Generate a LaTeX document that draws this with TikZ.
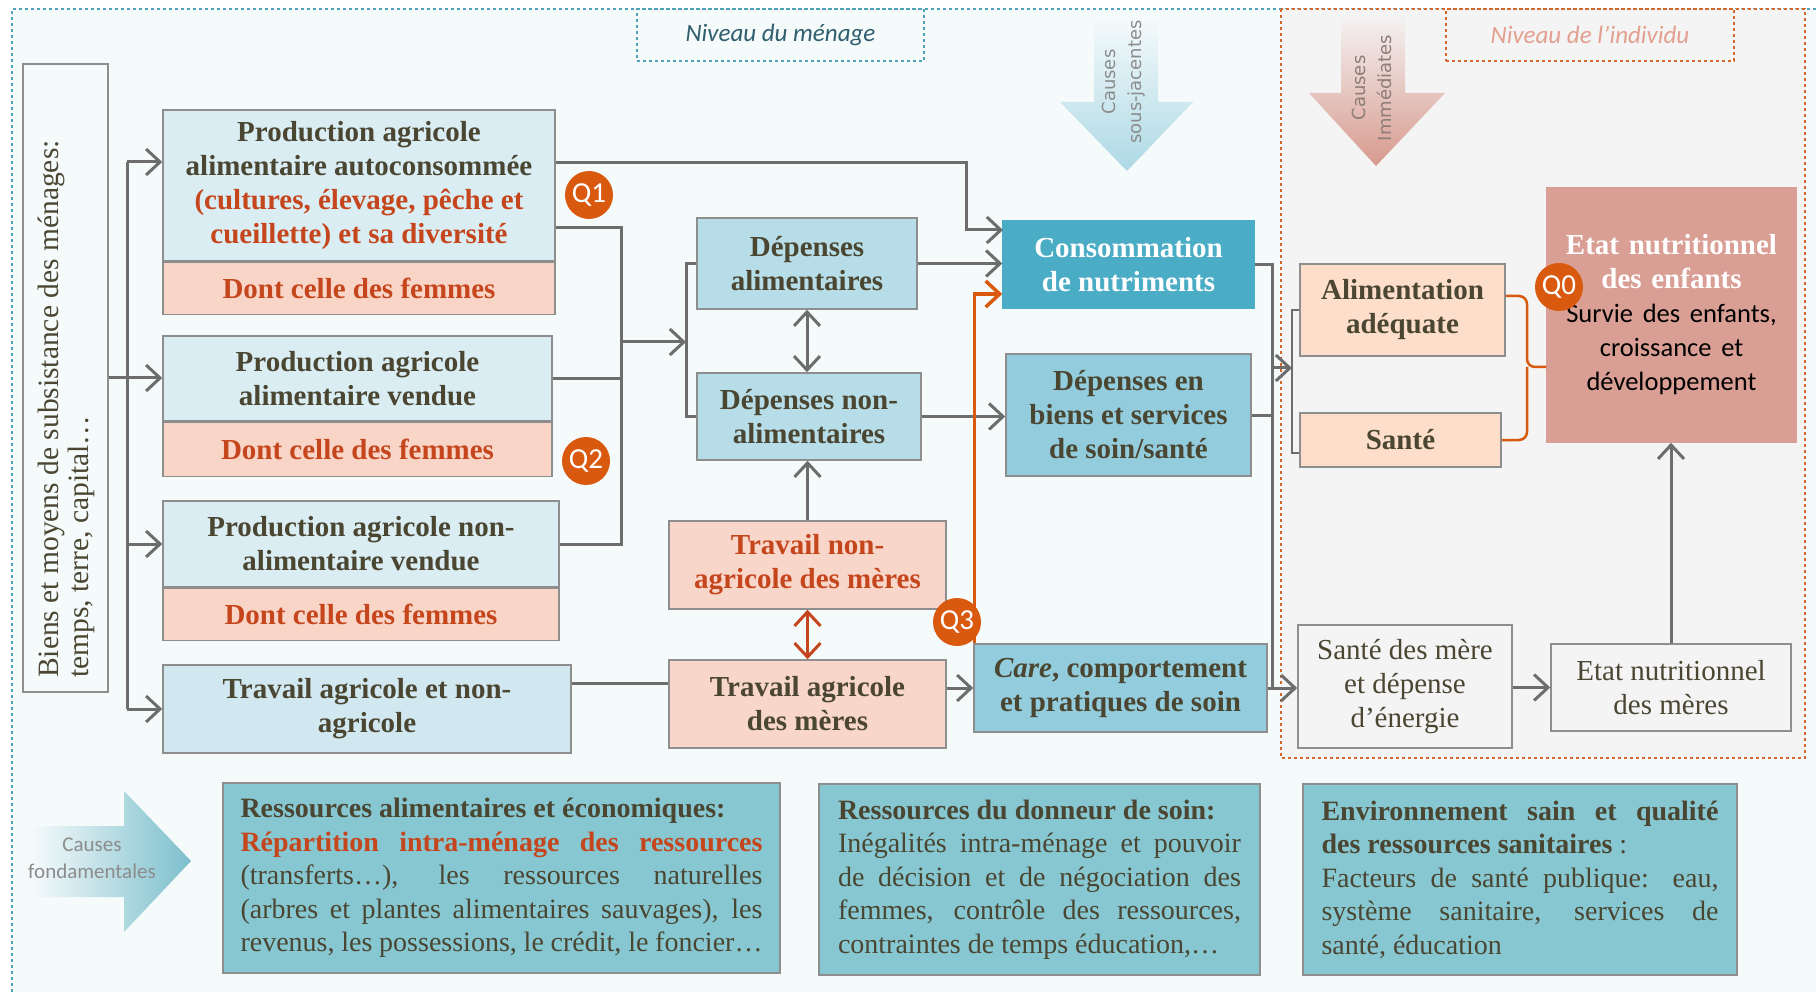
\documentclass[tikz,border=0pt]{standalone}
\usepackage{fontspec}
\setmainfont{Liberation Serif}
\newfontfamily\calibri{Carlito}
\newfontfamily\dejavu{DejaVu Sans}
\usetikzlibrary{positioning,arrows.meta}

\definecolor{menagebg}{HTML}{F5FAFB}
\definecolor{indivbg}{HTML}{F4F4F4}
\definecolor{framegray}{HTML}{8E8E8E}
\definecolor{linegray}{HTML}{6D6D6D}
\definecolor{darktxt}{HTML}{4A4632}
\definecolor{orangetxt}{HTML}{C5461C}
\definecolor{qorange}{HTML}{D95A0E}
\definecolor{prodblue}{HTML}{DAEDF3}
\definecolor{travblue}{HTML}{D1E8F0}
\definecolor{femmepink}{HTML}{F9D5C8}
\definecolor{depblue}{HTML}{B7DDE8}
\definecolor{consblue}{HTML}{4BACC6}
\definecolor{soinblue}{HTML}{93CDDD}
\definecolor{peach}{HTML}{FCDECA}
\definecolor{travpink}{HTML}{F9D6CA}
\definecolor{enfantred}{HTML}{D99E94}
\definecolor{bottomteal}{HTML}{87C7D1}
\definecolor{menageline}{HTML}{4FA3B8}
\definecolor{indivline}{HTML}{D5672E}
\definecolor{menagetxt}{HTML}{2F5E6E}
\definecolor{indivtxt}{HTML}{E3A08E}
\definecolor{causegray}{HTML}{8C8C8C}
\definecolor{immtxt}{HTML}{8E7C78}
\definecolor{sousbleu}{HTML}{ADD9E5}
\definecolor{immrose}{HTML}{D89A8E}
\definecolor{fondteal}{HTML}{7CBFCC}

\begin{document}
\begin{tikzpicture}[
    x=1pt, y=-1pt,
    box/.style={draw=framegray, line width=1.5pt, align=center, inner sep=0pt, text=darktxt, font=\bfseries\fontsize{29}{34}\selectfont},
    prod/.style={box, fill=prodblue},
    femmes/.style={box, fill=femmepink, text=orangetxt},
    dep/.style={box, fill=depblue},
    soin/.style={box, fill=soinblue},
    trav/.style={box, fill=travpink},
    indiv/.style={box, fill=peach},
    plainbox/.style={box, fill=indivbg, font=\fontsize{29}{34}\selectfont},
    ressource/.style={draw=framegray, line width=1.5pt, fill=bottomteal, text=darktxt, align=justify, inner sep=0pt, font=\fontsize{28}{33.5}\selectfont},
    qmark/.style={circle, fill=qorange, text=white, minimum size=48pt, inner sep=0pt, font=\calibri\fontsize{29}{29}\selectfont},
    niveau/.style={dashed, line width=1.5pt, inner sep=0pt, font=\calibri\itshape\fontsize{25}{25}\selectfont},
    cause/.style={text=causegray, align=center, inner sep=0pt, font=\dejavu\fontsize{18}{26}\selectfont},
    conn/.style={draw=linegray, line width=3pt},
    arr/.style={conn, -{Straight Barb[length=14pt,width=26pt]}},
    arrboth/.style={conn, {Straight Barb[length=14pt,width=26pt]}-{Straight Barb[length=14pt,width=26pt]}},
    oline/.style={draw=qorange, line width=3.5pt}
]
\useasboundingbox (0,0) rectangle (1816,992);

% Draw levels
\fill[white] (0,0) rectangle (1816,992);
\fill[menagebg] (12,9) rectangle (1816,992);
\draw[menageline, dashed, line width=1.5pt] (12,992) -- (12,9) -- (1816,9);
\fill[indivbg] (1281,9) rectangle (1805,758);
\draw[indivline, dashed, line width=1.5pt] (1281,9) rectangle (1805,758);

\node[niveau, draw=menageline, text=menagetxt, minimum width=287, minimum height=52] (menage) at (780.5,35) {Niveau du ménage};
\node[niveau, draw=indivline, text=indivtxt, minimum width=288, minimum height=52] (individu) at (1590,35) {Niveau de l’individu};

% Draw cause arrows
\shade[top color=menagebg, bottom color=sousbleu] (1094,17) -- (1158,17) -- (1158,102) -- (1193,102) -- (1127,171) -- (1060,102) -- (1094,102) -- cycle;
\node[cause, rotate=90] (sousjac) at (1124,82) {Causes\\sous-jacentes};
\shade[top color=indivbg, bottom color=immrose] (1341,14) -- (1405,14) -- (1405,93) -- (1445,93) -- (1376,166) -- (1309,93) -- (1341,93) -- cycle;
\node[cause, rotate=90, text=immtxt] (immed) at (1372,88) {Causes\\Immédiates};
\shade[left color=menagebg, right color=fondteal] (32,826) -- (124,826) -- (124,791) -- (191,861) -- (124,932) -- (124,897) -- (32,897) -- cycle;
\node[cause, font=\calibri\fontsize{21}{27}\selectfont, text=causegray] (fondam) at (92,858) {Causes\\fondamentales};

% Draw nodes
\node[box, fill=menagebg, minimum width=85, minimum height=628] (biens) at (65.5,378) {};
\node[rotate=90, anchor=west, align=left, inner sep=0pt, text=darktxt, font=\fontsize{29.5}{29.5}\selectfont] (bienstxt) at (66.5,678) {Biens et moyens de subsistance des ménages:\\temps, terre, capital…};

\node[prod, minimum width=392, minimum height=151] (prod1) at (359,185.5) {Production agricole\\alimentaire autoconsommée\\{\color{orangetxt}(cultures, élevage, pêche et}\\{\color{orangetxt}cueillette) et sa diversité}};
\node[femmes, minimum width=392, minimum height=52, below=0pt of prod1] (fem1) {Dont celle des femmes};
\node[prod, minimum width=389, minimum height=85] (prod2) at (357.5,378.5) {Production agricole\\alimentaire vendue};
\node[femmes, minimum width=389, minimum height=54, below=0pt of prod2] (fem2) {Dont celle des femmes};
\node[prod, minimum width=396, minimum height=86] (prod3) at (361,544) {Production agricole non-\\alimentaire vendue};
\node[femmes, minimum width=396, minimum height=52, below=0pt of prod3] (fem3) {Dont celle des femmes};
\node[box, fill=travblue, minimum width=408, minimum height=88] (travail) at (367,709) {Travail agricole et non-\\agricole};

\node[dep, minimum width=220, minimum height=91] (depalim) at (807,263.5) {Dépenses\\alimentaires};
\node[dep, minimum width=224, minimum height=87] (depnon) at (809,416.5) {Dépenses non-\\alimentaires};
\node[trav, text=orangetxt, minimum width=277, minimum height=88] (travnon) at (807.5,565) {Travail non-\\agricole des mères};
\node[trav, minimum width=277, minimum height=88] (travagr) at (807.5,704) {Travail agricole\\des mères};

\node[box, fill=consblue, draw=consblue, text=white, minimum width=251, minimum height=87] (cons) at (1128.5,264.5) {Consommation\\de nutriments};
\node[soin, minimum width=245, minimum height=122] (soins) at (1128.5,415) {Dépenses en\\biens et services\\de soin/santé};
\node[soin, minimum width=293, minimum height=88] (care) at (1120.5,688) {\textit{Care}, comportement\\et pratiques de soin};

\node[indiv, minimum width=205, minimum height=92] (alim) at (1402.5,310) {Alimentation\\adéquate};
\node[indiv, minimum width=201, minimum height=54] (sante) at (1400.5,440) {Santé};
\node[box, fill=enfantred, draw=enfantred, text=white, text width=240, minimum width=249, minimum height=254] (enfants) at (1671.5,315) {Etat nutritionnel\\des enfants\\{\calibri\mdseries\color{black}\fontsize{26.5}{34}\selectfont Survie des enfants,\\croissance et\\développement}};
\node[plainbox, minimum width=214, minimum height=123] (smere) at (1405,686.5) {Santé des mère\\et dépense\\d’énergie};
\node[plainbox, minimum width=240, minimum height=87] (emere) at (1671,687.5) {Etat nutritionnel\\des mères};

\node[ressource, minimum width=557, minimum height=190, text width=522] (resA) at (501.5,878) {{\bfseries Ressources alimentaires et économiques:}\newline
{\bfseries\color{orangetxt}Répartition intra-ménage des ressources}\linebreak
(transferts…), les ressources naturelles\linebreak
(arbres et plantes alimentaires sauvages), les\linebreak
revenus, les possessions, le crédit, le foncier…};
\node[ressource, minimum width=441, minimum height=191, text width=403] (resB) at (1039.5,879.5) {{\bfseries Ressources du donneur de soin:}\newline
Inégalités intra-ménage et pouvoir\linebreak
de décision et de négociation des\linebreak
femmes, contrôle des ressources,\linebreak
contraintes de temps éducation,…};
\node[ressource, minimum width=434, minimum height=191, text width=397] (resC) at (1520,879.5) {{\bfseries Environnement sain et qualité}\linebreak
{\bfseries des ressources sanitaires} :\newline
Facteurs de santé publique: eau,\linebreak
système sanitaire, services de\linebreak
santé, éducation};

% Draw connections
\coordinate (trunk) at (127,378);
\coordinate (t1) at (127,162);
\draw[conn] (biens.east) -- (trunk);
\draw[conn] (t1) -- (trunk |- travail.west);
\draw[arr] (t1) -- (t1 -| prod1.west);
\draw[arr] (trunk) -- (trunk -| prod2.west);
\draw[arr] (trunk |- prod3.west) -- (prod3.west);
\draw[arr] (trunk |- travail.west) -- (travail.west);

\coordinate (b1) at (621,228);
\coordinate (bus) at (621,342);
\coordinate (depbr) at (686,342);
\draw[conn] (prod1.east |- b1) -- (b1) -- (b1 |- prod3.east) -- (prod3.east);
\draw[conn] (prod2.east) -- (prod2.east -| b1);
\draw[arr] (bus) -- (depbr);
\draw[conn] (depalim.west) -| (depbr) |- (depnon.west);

\coordinate (upper) at (966,163);
\coordinate (in1) at (1003,230);
\draw[arr] (prod1.east |- upper) -- (upper) |- (in1);
\draw[arr] (depalim.east) -- (depalim.east -| cons.west);
\draw[arrboth] (depalim.south) -- (depalim.south |- depnon.north);
\draw[arr] (travnon.north) -- (travnon.north |- depnon.south);
\draw[arr] (depnon.east) -- (depnon.east -| soins.west);
\draw[arrboth, draw=orangetxt] (travnon.south) -- (travagr.north);

\coordinate (w1) at (620,683);
\draw[conn] (travail.east |- w1) -- (travagr.west |- w1);
\draw[arr] (travagr.east |- care.west) -- (care.west);

\coordinate (o1) at (975,294);
\draw[oline, -{Straight Barb[length=14pt,width=26pt]}] ([xshift=1pt]care.north west) |- (o1 -| cons.west);

\coordinate (rbus) at (1272,265);
\coordinate (rbr) at (1292,368);
\draw[conn] (cons.east) -- (cons.east -| rbus) -- (rbus |- care.east);
\draw[conn] (soins.east) -- (soins.east -| rbus);
\draw[arr] (rbus |- rbr) -- (rbr);
\draw[conn, line width=2.5pt] (alim.west) -| (rbr) |- ([yshift=-13pt]sante.west);
\draw[arr] (care.east) -- (care.east -| smere.west);

\coordinate (brace) at (1527,367);
\draw[oline, line width=2.5pt, rounded corners=8pt] ([yshift=14pt]alim.east) -| (brace) -- (brace -| enfants.west);
\draw[oline, line width=2.5pt, rounded corners=8pt] (sante.east) -| (brace);

\draw[arr] (smere.east |- emere.west) -- (emere.west);
\draw[arr] (emere.north) -- (emere.north |- enfants.south);

% Draw questions
\node[qmark] (q1) at (589,195) {Q1};
\node[qmark] (q2) at (586,461) {Q2};
\node[qmark] (q3) at (957,622) {Q3};
\node[qmark] (q0) at (1559,287) {Q0};

\end{tikzpicture}
\end{document}
